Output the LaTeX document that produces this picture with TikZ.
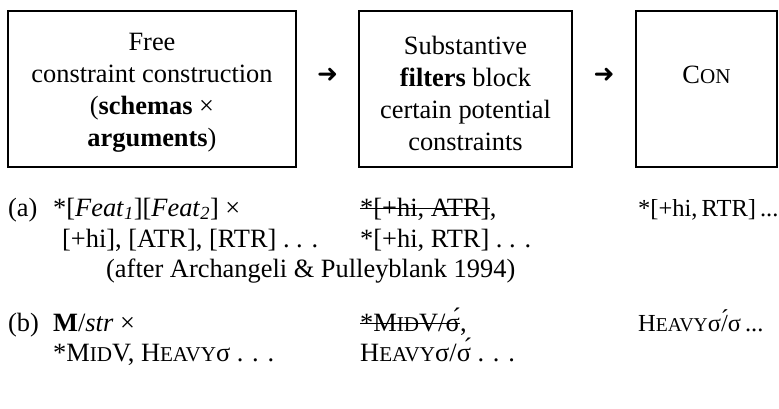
\documentclass[tikz,border=0pt]{standalone}
\usepackage{fontspec}
\setmainfont{Liberation Serif}
\newfontfamily\arrowfont{DejaVu Sans}
\usetikzlibrary{calc}
\newcommand\sca[1]{\scalebox{0.8}{#1}}
\newcommand\sub[1]{\textsubscript{\textit{#1}}}

\begin{document}
\begin{tikzpicture}[x=1pt, y=-1pt,
		every node/.style={font=\fontsize{26.4}{32}\selectfont},
		box/.style={draw, line width=1.5pt, inner sep=0},
		blurb/.style={align=center, inner sep=0},
		ex/.style={anchor=base west, inner sep=0},
		rcol/.style={ex, font=\fontsize{24.5}{30}\selectfont},
		strike/.style={line width=1pt},
		arr/.style={font=\arrowfont\fontsize{25}{25}\selectfont, inner sep=0}]
		%%%%% START %%%%%
		\useasboundingbox (0, 0) rectangle (779, 408);
		
		% the three boxes
		\node[box, minimum width=288pt, minimum height=156pt] (free) at (152, 89) {};
		\node[box, minimum width=213pt, minimum height=156pt] (filt) at (465.5, 89) {};
		\node[box, minimum width=141pt, minimum height=156pt] (con) at (706.5, 89) {};
		
		\node[blurb] (freetxt) at (152, 93) {Free\\constraint construction\\(\textbf{schemas} ×\\\textbf{arguments})};
		\node[blurb] (filttxt) at (465.5, 93) {Substantive\\\textbf{filters} block\\certain potential\\constraints};
		\node[anchor=base, inner sep=0] (contxt) at (706.5, 83) {C\sca{ON}};
		
		\node[arr] (arr1) at ($(free.east)!0.5!(filt.west)+(0,-14)$) {➜};
		\node[arr] (arr2) at ($(filt.east)!0.5!(con.west)+(0,-14)$) {➜};
		
		% example (a)
		\node[ex] (rowa) at (8, 216) {(a)};
		\node[ex] (a1) at (53, 216) {*[\textit{Feat}\sub{1}][\textit{Feat}\sub{2}] ×};
		\node[ex] (a2) at (62, 247) {[+hi], [ATR], [RTR] . . .};
		\node[ex] (a3) at (106, 277) {(after Archangeli \& Pulleyblank 1994)};
		\node[ex] (a4) at (360, 216) {*[+hi, ATR]};
		\node[ex] (a4c) at (a4.base east) {,};
		\draw[strike] ($(a4.base west)+(0,-8)$) -- ($(a4.base east)+(0,-8)$);
		\node[ex] (a5) at (360, 247) {*[+hi, RTR] . . .};
		\node[rcol] (a6) at (638, 216) {*[+hi,\,RTR]\,...};
		
		% example (b)
		\node[ex] (rowb) at (8, 331) {(b)};
		\node[ex] (b1) at (53, 331) {\textbf{M}/\textit{str} ×};
		\node[ex] (b2) at (53, 361) {*M\sca{ID}V, H\sca{EAVY}σ . . .};
		\node[ex] (b3) at (360, 331) {*M\sca{ID}V/σ́};
		\node[ex] (b3c) at (b3.base east) {,};
		\draw[strike] ($(b3.base west)+(0,-8)$) -- ($(b3.base east)+(0,-8)$);
		\node[ex] (b4) at (360, 361) {H\sca{EAVY}σ/σ́ . . .};
		\node[rcol] (b5) at (638, 331) {H\sca{EAVY}σ/́σ\,...};
		%%%%% END %%%%%
\end{tikzpicture}
\end{document}
